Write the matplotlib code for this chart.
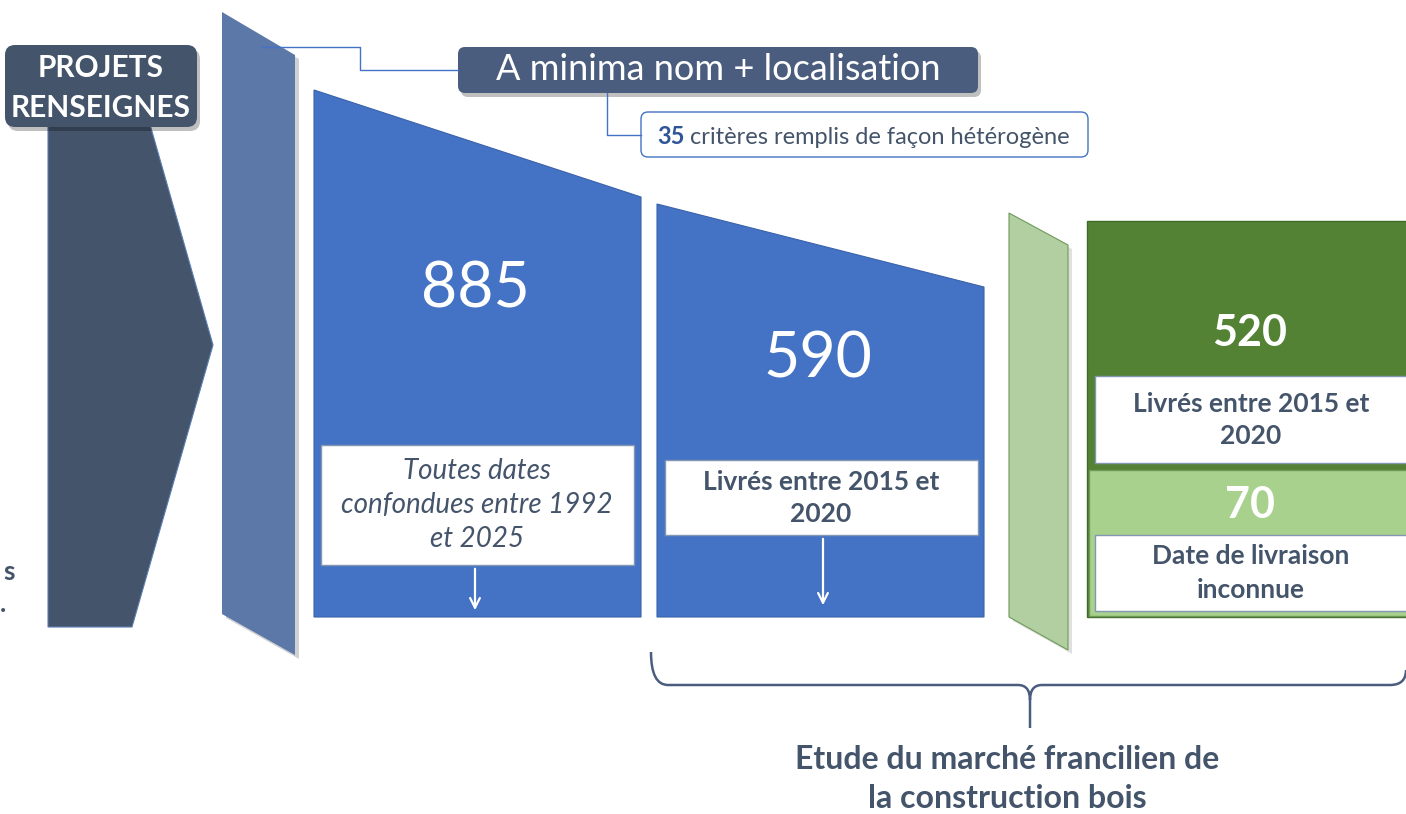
import matplotlib.pyplot as plt
from matplotlib.patches import Polygon, FancyBboxPatch, Rectangle, PathPatch
from matplotlib.path import Path

plt.rcParams['font.family'] = ['Lato', 'DejaVu Sans']

# content
header_label = "PROJETS\nRENSEIGNES"
criteria_main = "A minima nom + localisation"
criteria_count = "35"
criteria_rest = " critères remplis de façon hétérogène"
counts = [885, 590, 520, 70]
count_notes = ["Toutes dates\nconfondues entre 1992\net 2025",
               "Livrés entre 2015 et\n2020",
               "Livrés entre 2015 et\n2020",
               "Date de livraison\ninconnue"]
bracket_label = "Etude du marché francilien de\nla construction bois"

DARK = "#44546A"
BLUE = "#4472C4"
SLATE = "#5B78A8"
GREEN_D = "#548235"
GREEN_L = "#A9D18E"
GREEN_P = "#B1CFA1"

fig = plt.figure(figsize=(14.06, 8.14), dpi=100)
ax = fig.add_axes([0, 0, 1, 1])
ax.set_xlim(0, 1406)
ax.set_ylim(814, 0)
ax.axis("off")


def shadow_poly(pts, dx=4, dy=4, alpha=0.18):
    ax.add_patch(Polygon([(x + dx, y + dy) for x, y in pts], closed=True,
                         fc="black", ec="none", alpha=alpha))


def rbox(x, y, w, h, fc, ec="none", lw=1, r=8, shadow=False):
    if shadow:
        ax.add_patch(FancyBboxPatch((x + 3, y + 4), w, h,
                                    boxstyle=f"round,pad=0,rounding_size={r}",
                                    fc="black", ec="none", alpha=0.25))
    ax.add_patch(FancyBboxPatch((x, y), w, h,
                                boxstyle=f"round,pad=0,rounding_size={r}",
                                fc=fc, ec=ec, lw=lw))


# left arrow shape
arrow_pts = [(48, 100), (143, 100), (213, 345), (132, 627), (48, 627)]
ax.add_patch(Polygon(arrow_pts, closed=True, fc=DARK, ec="#5B7DB1", lw=0.8))

# header label
rbox(5, 45, 192, 82, DARK, r=10, shadow=True)
ax.text(101, 88, header_label, ha="center", va="center", color="white",
        fontsize=21.5, fontweight="bold", linespacing=1.5)

# slanted slate panel
slate_pts = [(222, 12), (295, 55), (295, 655), (222, 614)]
shadow_poly(slate_pts)
ax.add_patch(Polygon(slate_pts, closed=True, fc=SLATE, ec="none"))

# connectors
ax.plot([262, 360, 360, 458], [47, 47, 70, 70], color=BLUE, lw=1)
ax.plot([607, 607, 641], [93, 135, 135], color=BLUE, lw=1)

# criteria boxes
rbox(458, 47, 520, 46, "#4A5D7E", r=7, shadow=True)
ax.text(718, 70, criteria_main, ha="center", va="center", color="white",
        fontsize=26)
rbox(641, 112, 447, 45, "white", ec=BLUE, lw=1, r=7)
t35 = ax.text(657, 137, criteria_count, ha="left", va="center", color="#2F5597",
              fontsize=17, fontweight="bold")
ax.annotate(criteria_rest, xy=(1, 0), xycoords=t35, ha="left", va="bottom",
            color=DARK, fontsize=17)

# blue trapezoids
blue1 = [(314, 90), (641, 197), (641, 617), (314, 617)]
blue2 = [(657, 204), (984, 287), (984, 617), (657, 617)]
for pts in (blue1, blue2):
    ax.add_patch(Polygon(pts, closed=True, fc=BLUE, ec="#3A62AA", lw=0.8))

ax.text(475, 290, str(counts[0]), ha="center", va="center", color="white",
        fontsize=45)
ax.text(818, 360, str(counts[1]), ha="center", va="center", color="white",
        fontsize=45)

ax.add_patch(Rectangle((321, 445), 313, 120, fc="white", ec="#8497B0", lw=1))
ax.text(477, 505, count_notes[0], ha="center", va="center", color=DARK,
        fontsize=20, style="italic", linespacing=1.4)
ax.add_patch(Rectangle((665, 460), 313, 75, fc="white", ec="#8497B0", lw=1))
ax.text(821, 498, count_notes[1], ha="center", va="center", color=DARK,
        fontsize=19, fontweight="bold", linespacing=1.45)

for x, y0, y1 in [(475, 566, 613), (823, 536, 608)]:
    ax.annotate("", xy=(x, y1), xytext=(x, y0),
                arrowprops=dict(arrowstyle="->,head_length=0.7,head_width=0.35",
                                color="white", lw=1.6))

# green slanted panel
green_pts = [(1009, 213), (1068, 245), (1068, 650), (1009, 617)]
shadow_poly(green_pts, alpha=0.12)
ax.add_patch(Polygon(green_pts, closed=True, fc=GREEN_P, ec="#6E9A58", lw=0.8))

# green stacked boxes
ax.add_patch(Rectangle((1087, 221), 330, 396, fc=GREEN_D, ec="#3F6B26", lw=1))
ax.add_patch(Rectangle((1089, 470), 330, 146, fc=GREEN_L, ec="#6E9A58", lw=1))
ax.text(1250, 333, str(counts[2]), ha="center", va="center", color="white",
        fontsize=31, fontweight="bold")
ax.text(1250, 505, str(counts[3]), ha="center", va="center", color="white",
        fontsize=31, fontweight="bold")
ax.add_patch(Rectangle((1095, 376), 320, 87, fc="white", ec="#8497B0", lw=1))
ax.text(1251, 420, count_notes[2], ha="center", va="center", color=DARK,
        fontsize=19, fontweight="bold", linespacing=1.45)
ax.add_patch(Rectangle((1095, 535), 320, 76, fc="white", ec="#8497B0", lw=1))
ax.text(1251, 573, count_notes[3], ha="center", va="center", color=DARK,
        fontsize=19, fontweight="bold", linespacing=1.45)

# curly bracket
verts = [(651, 652), (651, 685), (668, 685),
         (1018, 685), (1030, 685), (1030, 700),
         (1030, 728),
         (1030, 700), (1030, 685), (1042, 685),
         (1390, 685), (1406, 685), (1406, 670)]
codes = [Path.MOVETO, Path.CURVE3, Path.CURVE3,
         Path.LINETO, Path.CURVE3, Path.CURVE3,
         Path.LINETO,
         Path.MOVETO, Path.CURVE3, Path.CURVE3,
         Path.LINETO, Path.CURVE3, Path.CURVE3]
ax.add_patch(PathPatch(Path(verts, codes), fc="none", ec="#4A5D7E", lw=1.8))

ax.text(1007, 779, bracket_label, ha="center", va="center", color=DARK,
        fontsize=23, fontweight="bold", linespacing=1.4)

# cut-off text at the left edge
ax.text(3, 572, "s", ha="left", va="center", color=DARK, fontsize=19,
        fontweight="bold")
ax.text(0, 604, ".", ha="left", va="center", color=DARK, fontsize=19,
        fontweight="bold")

fig.savefig("out.png", dpi=100)
